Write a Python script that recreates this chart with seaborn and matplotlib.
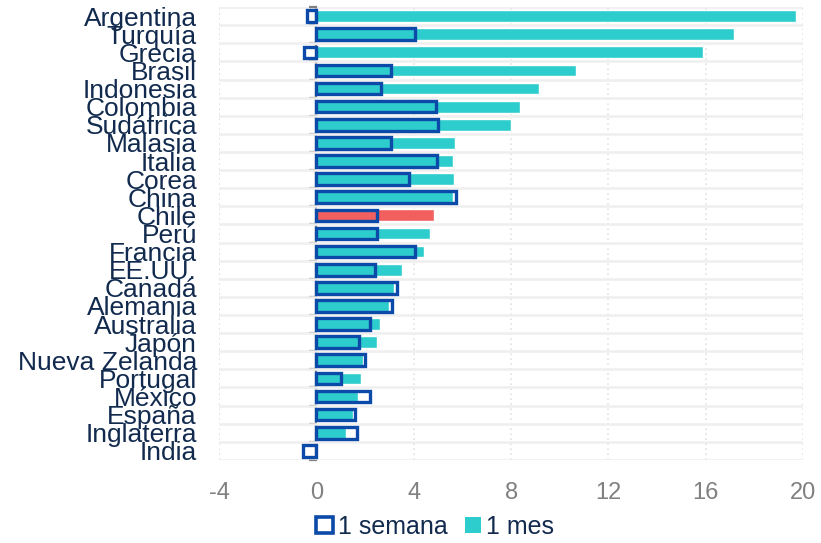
import numpy as np
import pandas as pd
import seaborn as sns
import matplotlib
matplotlib.use("Agg")
import matplotlib.pyplot as plt
from matplotlib.patches import Patch

# ── data ──────────────────────────────────────────────────────────────────────
countries = ["Argentina", "Turquía", "Grecia", "Brasil", "Indonesia", "Colombia",
             "Sudáfrica", "Malasia", "Italia", "Corea", "China", "Chile", "Perú",
             "Francia", "EE.UU.", "Canadá", "Alemania", "Australia", "Japón",
             "Nueva Zelanda", "Portugal", "México", "España", "Inglaterra", "India"]
mes = [19.7, 17.15, 15.9, 10.65, 9.15, 8.35, 8.0, 5.7, 5.6, 5.65, 5.6, 4.85, 4.65,
       4.4, 3.5, 3.2, 3.0, 2.6, 2.5, 1.9, 1.85, 1.7, 1.5, 1.2, 0.0]
semana = [-0.4, 4.05, -0.5, 3.05, 2.65, 4.9, 5.0, 3.05, 4.95, 3.8, 5.75, 2.5, 2.5,
          4.05, 2.4, 3.3, 3.1, 2.2, 1.75, 2.0, 1.0, 2.2, 1.6, 1.65, -0.55]
highlight = "Chile"
xticks = [-4, 0, 4, 8, 12, 16, 20]

CYAN = "#2ecdcd"
RED = "#f25f5f"
BLUE = "#0b4aa8"
NAVY = "#112a4e"
GREY = "#808080"

df = pd.DataFrame({"pais": countries, "mes": mes, "semana": semana})
df["grupo"] = np.where(df["pais"] == highlight, "hl", "base")

sns.set_style("white")
plt.rcParams["font.family"] = ["Liberation Sans", "DejaVu Sans"]

fig = plt.figure(figsize=(8.21, 5.43), dpi=100)
ax = fig.add_axes([0.267, 0.153, 0.711, 0.834])

sns.barplot(df, x="mes", y="pais", hue="grupo", palette={"base": CYAN, "hl": RED},
            width=0.65, dodge=False, legend=False, saturation=1, ax=ax, zorder=2)
sns.barplot(df, x="semana", y="pais", fill=False, color=BLUE, linewidth=2.4,
            width=0.64, saturation=1, ax=ax, zorder=3)

n = len(countries)
ax.set_xlim(-4, 20)
ax.set_ylim(n - 0.5, -0.5)
ax.set_xticks(xticks)
ax.set_xticklabels([str(t) for t in xticks])
ax.set_xlabel("")
ax.set_ylabel("")

# grid: dotted verticals, solid light horizontals at row boundaries
ax.set_yticks(np.arange(n) + 0.5, minor=True)
ax.grid(axis="x", which="major", color="#e2e2e2", linestyle=(0, (1, 2)), linewidth=1.2, zorder=0)
ax.grid(axis="y", which="minor", color="#efefef", linestyle="-", linewidth=1.8, zorder=0)
ax.grid(axis="y", which="major", visible=False)
ax.set_axisbelow(True)
for side in ["left", "right", "top", "bottom"]:
    ax.spines[side].set_visible(False)
ax.axvline(-4, color="#e2e2e2", linestyle=(0, (1, 2)), linewidth=1.2, zorder=0)
ax.axhline(-0.5, color="#efefef", linewidth=1.8, zorder=0)

ax.tick_params(axis="y", which="both", length=0, pad=16, labelsize=19, labelcolor=NAVY)
ax.tick_params(axis="x", which="both", length=0, pad=16, labelsize=17, labelcolor=GREY)

# zero axis with tick marks at row boundaries
zero_axis = ax.secondary_yaxis(4 / 24)
zero_axis.spines["left"].set_color(GREY)
zero_axis.spines["left"].set_linewidth(1.6)
zero_axis.set_yticks(np.arange(n + 1) - 0.5)
zero_axis.set_yticklabels([])
zero_axis.tick_params(axis="y", length=5, width=1.6, color=GREY)

handles = [Patch(facecolor="white", edgecolor=BLUE, linewidth=2.6, label="1 semana"),
           Patch(facecolor=CYAN, edgecolor="none", label="1 mes")]
leg = fig.legend(handles=handles, loc="center", bbox_to_anchor=(0.53, 0.03), ncol=2,
                 frameon=False, fontsize=18, handlelength=0.65, handleheight=0.65,
                 handletextpad=0.2, columnspacing=0.7)
for t in leg.get_texts():
    t.set_color(NAVY)

fig.savefig("out.png", dpi=100)
